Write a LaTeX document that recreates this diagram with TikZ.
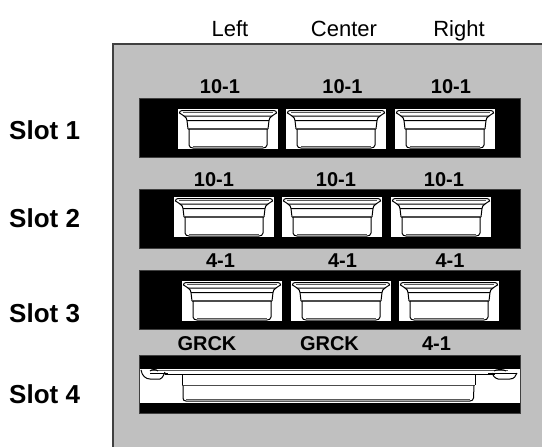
\documentclass[tikz,border=0pt]{standalone}
\usepackage{fontspec}
\setmainfont{Liberation Sans}
\definecolor{panel}{HTML}{C0C0C0}
\definecolor{edge}{HTML}{404040}
\tikzset{
 x=1pt,y=-1pt,
 headtxt/.style={font=\fontsize{22}{22}\selectfont,anchor=base,text=black,inner sep=0},
 val/.style={font=\fontsize{20}{20}\selectfont\bfseries,anchor=base,text=black,inner sep=0},
 slot/.style={font=\fontsize{26}{26}\selectfont\bfseries,anchor=base west,text=black,inner sep=0},
 bar/.style={fill=black,draw=edge,line width=.6pt},
 ln/.style={draw=black,line width=1pt},
 gln/.style={draw=black!65,line width=.8pt},
 thk/.style={draw=black!70,line width=1.7pt},
 pics/tile/.style={code={
  \fill[white] (0,0) rectangle (100,40);
  \draw[ln,fill=white] (4,1.5) -- (96,1.5) .. controls (98,1.5) and (98.5,3) .. (98.5,4) .. controls (97,4.5) and (96,6) .. (94,7) -- (6,7) .. controls (4,6) and (3,4.5) .. (1.5,4) .. controls (1.5,3) and (2,1.5) .. (4,1.5) -- cycle;
  \draw[gln] (5,3) -- (95,3);
  \draw[ln] (6,7) .. controls (8,8) and (9,10) .. (9,11.5) -- (91,11.5) .. controls (91,10) and (92,8) .. (94,7);
  \draw[ln] (9,11.5) -- (10,20); \draw[ln] (91,11.5) -- (90,20);
  \draw[thk] (10,20) -- (90,20);
  \draw[ln] (11,20) -- (11,36) .. controls (11,38) and (13,39) .. (15,39) -- (85,39) .. controls (87,39) and (89,38) .. (89,36) -- (89,20);
  \draw[gln] (15,37.5) -- (85,37.5);
 }}
}
\begin{document}
\begin{tikzpicture}
\useasboundingbox (0,0) rectangle (542,447);
\fill[white] (0,0) rectangle (542,447);
\fill[panel] (113,44) rectangle (542,447);
\draw[draw=edge,line width=1.3pt] (113,447.6) -- (113,44) -- (542.6,44);
\node[headtxt] (cl) at (230,37) {Left};
\node[headtxt] (cc) at (344,37) {Center};
\node[headtxt] (cr) at (459,37) {Right};
\node[slot] (s1) at (9,139) {Slot 1};
\node[slot] (s2) at (9,227) {Slot 2};
\node[slot] (s3) at (9,322) {Slot 3};
\node[slot] (s4) at (9,403) {Slot 4};
\draw[bar] (139,98) rectangle (520,157);
\draw[bar] (139,189) rectangle (520,248);
\draw[bar] (139,270) rectangle (520,329);
\draw[bar] (139,355) rectangle (520,413.5);
\node[val] (a1) at (220,93) {10-1};
\node[val] (a2) at (342.5,93) {10-1};
\node[val] (a3) at (451,93) {10-1};
\node[val] (b1) at (214,186) {10-1};
\node[val] (b2) at (336,186) {10-1};
\node[val] (b3) at (444,186) {10-1};
\node[val] (c1) at (220.5,267) {4-1};
\node[val] (c2) at (342.5,267) {4-1};
\node[val] (c3) at (450,267) {4-1};
\node[val] (d1) at (207,350) {GRCK};
\node[val] (d2) at (329.5,350) {GRCK};
\node[val] (d3) at (436.5,350) {4-1};
\pic at (178,109) {tile}; \pic at (286,109) {tile}; \pic at (395,109) {tile};
\pic at (174,197) {tile}; \pic at (282,197) {tile}; \pic at (391,197) {tile};
\pic at (182,281) {tile}; \pic at (291,281) {tile}; \pic at (399,281) {tile};
% slot 4 full-width tray
\fill[white] (139.5,369) rectangle (520,403);
\draw[gln] (150,370) -- (508,370);
\draw[ln] (165,374) -- (495,374);
\draw[ln] (141,370) .. controls (142,376) and (146,379) .. (150,379) -- (160,379) .. controls (163,378) and (164,374) .. (165,372);
\draw[ln] (150,373) -- (168,373);
\draw[ln] (150,371) .. controls (152,369) and (156,369) .. (158,371);
\draw[ln] (517,373) .. controls (516,376) and (514,379) .. (510,379) -- (498,379) .. controls (494,378) and (493,375) .. (492,373);
\draw[ln] (488,373) -- (517,373);
\draw[ln] (494,371) .. controls (497,369) and (503,369) .. (506,371);
\draw[ln] (182,374) -- (182,385); \draw[ln] (475,374) -- (475,385);
\draw[thk] (182,385.5) -- (475,385.5);
\draw[ln] (183,385.5) -- (183,398) .. controls (183,400) and (184,401) .. (186,401) -- (470,401) .. controls (472,401) and (473,400) .. (473.5,398) -- (474,385.5);
\draw[gln] (186,399.5) -- (470,399.5);
\end{tikzpicture}
\end{document}
